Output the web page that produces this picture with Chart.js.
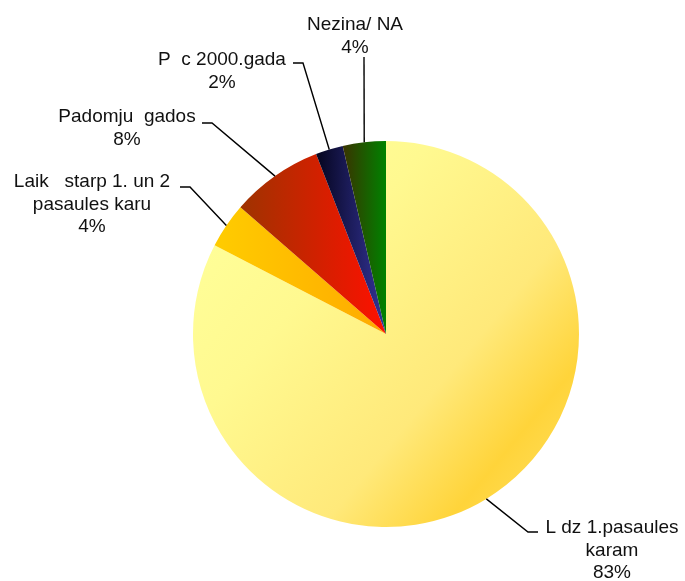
<!DOCTYPE html>
<html>
<head>
<meta charset="utf-8">
<script src="https://cdn.jsdelivr.net/npm/chart.js@4/dist/chart.umd.min.js"></script>
<style>
  html, body { margin: 0; padding: 0; background: #fff; }
  #wrap { width: 685px; height: 581px; position: relative; }
</style>
</head>
<body>
<div id="wrap"><canvas id="pieChart"></canvas></div>
<script>
// data
const categories = [
    ['L dz 1.pasaules', 'karam'],
    ['Laik   starp 1. un 2', 'pasaules karu'],
    ['Padomju  gados'],
    ['P  c 2000.gada'],
    ['Nezina/ NA']
];
const shares = [82.6, 3.8, 7.7, 2.3, 3.6];

// look
const fills = [
    { stops: [[0, '#FFFF99'], [0.3, '#FFF990'], [0.68, '#FFE97A'], [0.9, '#FFD43A'], [1, '#FFDA4E']], diag: true },
    { stops: [[0, '#FFCC00'], [1, '#FFAA00']] },
    { stops: [[0, '#9E3300'], [1, '#FF1000']] },
    { stops: [[0, '#05051E'], [1, '#34349A']] },
    { stops: [[0, '#3A3300'], [1, '#008200']] }
];
// label placement: text centre x, first baseline y, elbow point, end of horizontal stub
const labelPos = [
    { tx: 612, ty: 533, ex: 528, ey: 532, hx: 538 },
    { tx: 92, ty: 187, ex: 190, ey: 187, hx: 180 },
    { tx: 127, ty: 122, ex: 212, ey: 123, hx: 202 },
    { tx: 222, ty: 65, ex: 303, ey: 63, hx: 293 },
    { tx: 355, ty: 30, ex: 364, ey: 57, hx: 364 }
];

const total = shares.reduce((a, b) => a + b, 0);

function sliceFill(c) {
    const chart = c.chart;
    const area = chart.chartArea;
    const f = fills[c.dataIndex];
    if (!area) return f.stops[0][1];
    const cx = (area.left + area.right) / 2, cy = (area.top + area.bottom) / 2;
    const r = Math.min(area.right - area.left, area.bottom - area.top) / 2;
    let g;
    if (f.diag) {
        g = chart.ctx.createLinearGradient(cx - r, cy - r * 0.55, cx + r * 0.7, cy + r * 0.86);
    } else {
        let before = 0;
        for (let k = 0; k < c.dataIndex; k++) before += shares[k];
        const a0 = -Math.PI / 2 + before / total * Math.PI * 2;
        const a1 = a0 + shares[c.dataIndex] / total * Math.PI * 2;
        let xs = [cx, cx + r * Math.cos(a0), cx + r * Math.cos(a1)];
        for (let q = -2; q <= 2; q++) {
            const a = q * Math.PI;
            if (a > a0 && a < a1) xs.push(cx + r * Math.cos(a));
        }
        g = chart.ctx.createLinearGradient(Math.min(...xs), 0, Math.max(...xs), 0);
    }
    f.stops.forEach(s => g.addColorStop(s[0], s[1]));
    return g;
}

const calloutPlugin = {
    id: 'callouts',
    afterDatasetsDraw(chart) {
        const ctx = chart.ctx;
        const arcs = chart.getDatasetMeta(0).data;
        ctx.save();
        ctx.strokeStyle = '#000';
        ctx.lineWidth = 1.4;
        ctx.fillStyle = '#111';
        ctx.font = '19px "Liberation Sans", Arial, sans-serif';
        ctx.textAlign = 'center';
        ctx.textBaseline = 'alphabetic';
        arcs.forEach((arc, i) => {
            const p = labelPos[i];
            const mid = (arc.startAngle + arc.endAngle) / 2;
            const sx = arc.x + Math.cos(mid) * arc.outerRadius;
            const sy = arc.y + Math.sin(mid) * arc.outerRadius;
            ctx.beginPath();
            ctx.moveTo(sx, sy);
            ctx.lineTo(p.ex, p.ey);
            ctx.lineTo(p.hx, p.ey);
            ctx.stroke();
            const lines = categories[i].concat([Math.round(shares[i] / total * 100) + '%']);
            lines.forEach((t, j) => ctx.fillText(t, p.tx, p.ty + j * 22.5));
        });
        ctx.restore();
    }
};

new Chart(document.getElementById('pieChart'), {
    type: 'pie',
    data: {
        labels: categories.map(l => l.join(' ')),
        datasets: [{
            data: shares,
            backgroundColor: sliceFill,
            borderWidth: 0
        }]
    },
    options: {
        responsive: true,
        maintainAspectRatio: false,
        animation: false,
        layout: { padding: { left: 193, right: 106, top: 141, bottom: 54 } },
        plugins: { legend: { display: false }, tooltip: { enabled: false } }
    },
    plugins: [calloutPlugin]
});
</script>
</body>
</html>
